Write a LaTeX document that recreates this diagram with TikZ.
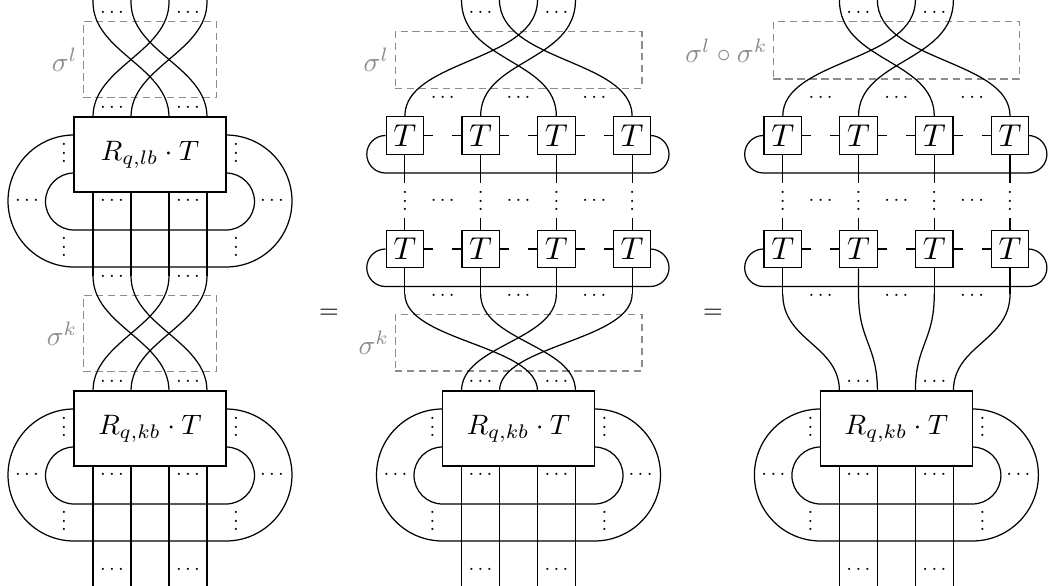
\documentclass[tikz,border=0pt]{standalone}
\usetikzlibrary{calc}
\tikzset{
 rbox/.style={draw, fill=white, minimum width=3.04cm, minimum height=1.5cm, inner sep=0pt},
 tbox/.style={draw, fill=white, minimum width=0.75cm, minimum height=0.75cm, inner sep=0pt},
 dts/.style={inner sep=0pt, scale=1.17, transform shape},
 permbox/.style={draw=black!45, dash pattern=on 4.2pt off 2.6pt, line width=0.6pt, inner sep=0pt},
 plab/.style={text=black!45, anchor=east, inner sep=1.6pt, scale=1.58, transform shape},
 eqsign/.style={inner sep=0pt, scale=1.44, transform shape}
}
\newcommand{\hd}{$\cdots$}
\newcommand{\vd}{\vbox{\baselineskip4pt\lineskiplimit0pt\hbox{.}\hbox{.}\hbox{.}}}
% R box with its two loops
\newcommand{\Rmod}[4]{%
\begin{scope}[shift={(#2,-#3)}]
\node[rbox] (#1) at (0,-37.5) {\scalebox{1.6}{#4}};
\foreach \i/\dx in {1/-57,2/-19,3/19,4/57}{
 \coordinate (#1-t\i) at (\dx,0);
 \coordinate (#1-b\i) at (\dx,-75);
}
\draw (-76,-18) arc[start angle=90,end angle=270,radius=1.32cm] -- ++(152,0) arc[start angle=-90,end angle=90,radius=1.32cm];
\draw (-76,-56) arc[start angle=90,end angle=270,radius=0.57cm] -- ++(152,0) arc[start angle=-90,end angle=90,radius=0.57cm];
\node[dts] (#1-v1) at (-86,-36) {\vd};
\node[dts] (#1-v2) at (86,-36) {\vd};
\node[dts] (#1-v3) at (-86,-130) {\vd};
\node[dts] (#1-v4) at (86,-130) {\vd};
\node[dts] (#1-h1) at (-123,-84) {\hd};
\node[dts] (#1-h2) at (122,-84) {\hd};
\node[dts] (#1-h3) at (-38,-84) {\hd};
\node[dts] (#1-h4) at (38,-84) {\hd};
\node[dts] (#1-h5) at (-38,9) {\hd};
\node[dts] (#1-h6) at (38,9) {\hd};
\end{scope}}
% row of four T tensors with a closing loop
\newcommand{\Trow}[3]{%
\begin{scope}[shift={(#2,-#3)}]
\foreach \i/\dx in {1/-113.625,2/-37.875,3/37.875,4/113.625}{
 \node[tbox] (#1-\i) at (\dx,0) {\scalebox{1.8}{$T$}};
}
\foreach \i in {1,2,3}{\draw (#1-\i.east) -- ++(9,0);}
\foreach \i in {2,3,4}{\draw (#1-\i.west) -- ++(-9,0);}
\draw (#1-1.west) arc[start angle=90,end angle=270,radius=0.375cm] -- ++(264.75,0) arc[start angle=-90,end angle=90,radius=0.375cm];
\end{scope}}
\begin{document}
\begin{tikzpicture}[x=0.02cm,y=0.02cm,line width=0.7pt]
\useasboundingbox (0,0) rectangle (1051,-585);
% ================= left panel =================
\node[permbox, minimum width=2.668cm, minimum height=1.52cm] (LPa) at (150,-59.7) {};
\node[permbox, minimum width=2.668cm, minimum height=1.52cm] (LPb) at (150,-333.7) {};
\node[plab] (LPaL) at (LPa.west) {$\sigma^l$};
\node[plab] (LPbL) at (LPb.west) {$\sigma^k$};
\Rmod{LA}{150}{117}{$R_{q,lb}\cdot T$}
\Rmod{LB}{150}{391}{$R_{q,kb}\cdot T$}
\foreach \i/\x in {1/93,2/131,3/169,4/207}{
 \coordinate (LAe\i) at (\x,6);
 \coordinate (LAc\i) at (\x,-2);
 \coordinate (LAd\i) at (\x,-276);
 \coordinate (LBf\i) at (\x,-592);
}
\foreach \a/\b in {1/3,2/4,3/1,4/2}{
 \draw (LAe\a) -- (LAc\a) .. controls +(0,-50) and +(0,50) .. (LA-t\b);
 \draw (LAd\a) .. controls +(0,-50) and +(0,50) .. (LB-t\b);
}
\foreach \i in {1,2,3,4}{
 \draw (LA-b\i) -- (LAd\i);
 \draw (LB-b\i) -- (LBf\i);
}
\node[dts] (Ld1) at (112,-13) {\hd};
\node[dts] (Ld2) at (188,-13) {\hd};
\node[dts] (Ld3) at (112,-277) {\hd};
\node[dts] (Ld4) at (188,-277) {\hd};
\node[dts] (Ld5) at (112,-570) {\hd};
\node[dts] (Ld6) at (188,-570) {\hd};
\node[eqsign] (eq1) at (329,-313.5) {$=$};
% ================= middle panel =================
\node[permbox, minimum width=4.94cm, minimum height=1.132cm] (MPa) at (518.5,-60) {};
\node[permbox, minimum width=4.94cm, minimum height=1.134cm] (MPb) at (518.5,-342.65) {};
\node[plab] (MPaL) at (MPa.west) {$\sigma^l$};
\node[plab] (MPbL) at (MPb.west) {$\sigma^k$};
\Trow{MA}{518.5}{135.5}
\Trow{MB}{518.5}{249}
\Rmod{MC}{518.5}{391}{$R_{q,kb}\cdot T$}
\foreach \i/\x in {1/461.5,2/499.5,3/537.5,4/575.5}{
 \coordinate (Mtop\i) at (\x,0);
 \coordinate (MCf\i) at (\x,-592);
}
\foreach \i/\x in {1/404.875,2/480.625,3/556.375,4/632.125}{
 \coordinate (MBd\i) at (\x,-294);
 \node[dts] (MV\i) at (\x,-201) {\vd};
 \draw (MA-\i.south) -- ++(0,-27.75);
 \draw (MB-\i.north) -- ++(0,11.25);
 \draw (MB-\i.south) -- (MBd\i);
}
\foreach \a/\b in {1/3,2/4,3/1,4/2}{
 \draw (MA-\a.north) .. controls +(0,56.75) and +(0,-62) .. (Mtop\b) -- ++(0,6);
 \draw (MBd\a) .. controls +(0,-47) and +(0,46) .. (MC-t\b);
}
\foreach \i in {1,2,3,4}{\draw (MC-b\i) -- (MCf\i);}
\foreach \i/\x in {1/442.75,2/518.5,3/594.25}{
 \node[dts] (Mh1\i) at (\x,-97.7) {\hd};
 \node[dts] (Mh2\i) at (\x,-201) {\hd};
 \node[dts] (Mh3\i) at (\x,-295.7) {\hd};
}
\node[dts] (Mt1) at (480.5,-13) {\hd};
\node[dts] (Mt2) at (556.5,-13) {\hd};
\node[dts] (Mb1) at (480.5,-570) {\hd};
\node[dts] (Mb2) at (556.5,-570) {\hd};
\node[eqsign] (eq2) at (713,-313.5) {$=$};
% ================= right panel =================
\node[permbox, minimum width=4.92cm, minimum height=1.146cm] (RPa) at (896.4,-50.35) {};
\node[plab] (RPaL) at (RPa.west) {$\sigma^l\circ\sigma^k$};
\Trow{RA}{896.4}{135.5}
\Trow{RB}{896.4}{249}
\Rmod{RC}{896.4}{391}{$R_{q,kb}\cdot T$}
\foreach \i/\x in {1/839.4,2/877.4,3/915.4,4/953.4}{
 \coordinate (Rtop\i) at (\x,0);
 \coordinate (RCf\i) at (\x,-592);
}
\foreach \i/\x in {1/782.775,2/858.525,3/934.275,4/1010.025}{
 \coordinate (RBd\i) at (\x,-294);
 \node[dts] (RV\i) at (\x,-201) {\vd};
 \draw (RA-\i.south) -- ++(0,-27.75);
 \draw (RB-\i.north) -- ++(0,11.25);
 \draw (RB-\i.south) -- (RBd\i);
 \draw (RBd\i) .. controls +(0,-47) and +(0,46) .. (RC-t\i);
}
\foreach \a/\b in {1/3,2/4,3/1,4/2}{
 \draw (RA-\a.north) .. controls +(0,56.75) and +(0,-62) .. (Rtop\b) -- ++(0,6);
}
\foreach \i in {1,2,3,4}{\draw (RC-b\i) -- (RCf\i);}
\foreach \i/\x in {1/820.65,2/896.4,3/972.15}{
 \node[dts] (Rh1\i) at (\x,-97.7) {\hd};
 \node[dts] (Rh2\i) at (\x,-201) {\hd};
 \node[dts] (Rh3\i) at (\x,-295.7) {\hd};
}
\node[dts] (Rt1) at (858.4,-13) {\hd};
\node[dts] (Rt2) at (934.4,-13) {\hd};
\node[dts] (Rb1) at (858.4,-570) {\hd};
\node[dts] (Rb2) at (934.4,-570) {\hd};
\end{tikzpicture}
\end{document}
